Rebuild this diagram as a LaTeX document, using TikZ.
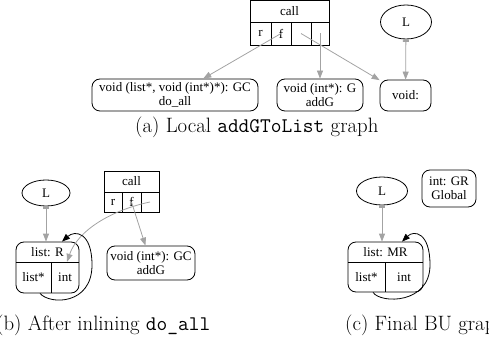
\documentclass[tikz,border=0pt]{standalone}
\usepackage{fontspec}
\newfontfamily\graphfont{Liberation Serif}
\usetikzlibrary{arrows.meta,shapes.geometric,calc}

\definecolor{edgegray}{gray}{0.64}

\tikzset{
  gtext/.style={font=\graphfont\fontsize{13}{14}\selectfont},
  rbox/.style={gtext, draw, line width=0.8pt, rounded corners=8pt, inner sep=0pt, align=center},
  cellbox/.style={gtext, draw, line width=0.8pt, inner sep=0pt},
  plain/.style={gtext, inner sep=0pt},
  oval/.style={gtext, draw, ellipse, line width=0.8pt, inner sep=0pt},
  ptr/.style={draw=edgegray, line width=0.8pt, -{Triangle[length=8pt,width=6pt]}},
  tailptr/.style={draw=edgegray, line width=0.8pt,
    {Rectangle[length=2.5pt,width=6pt]}-{Triangle[length=8pt,width=6pt]}},
  selfloop/.style={draw=black, line width=0.8pt, -{Triangle[length=8pt,width=6pt]}},
  subcap/.style={font=\fontsize{20.8}{25}\selectfont, inner sep=0pt, anchor=base west},
}

\begin{document}
\begin{tikzpicture}[x=1pt,y=-1pt]
\useasboundingbox (0,0) rectangle (489,347);

% ---------------- (a) local graph ----------------
\node[cellbox, minimum width=79pt, minimum height=22pt] (callA) at (289.5,11) {call};
\node[cellbox, minimum width=21pt, minimum height=23pt] (aR)  at (260.5,33.5) {r};
\node[cellbox, minimum width=20pt, minimum height=23pt] (aF)  at (281,33.5) {f};
\node[cellbox, minimum width=20pt, minimum height=23pt] (aC3) at (301,33.5) {};
\node[cellbox, minimum width=18pt, minimum height=23pt] (aC4) at (320,33.5) {};

\node[rbox, minimum width=166pt, minimum height=32pt] (doall) at (175,95)
  {void (list*, void (int*)*): GC\\do\_all};
\node[rbox, minimum width=86pt, minimum height=32pt] (addGa) at (320,95)
  {void (int*): G\\addG};
\node[rbox, minimum width=51pt, minimum height=31pt] (voidA) at (405.5,95.5) {void:};
\node[oval, minimum width=51pt, minimum height=34pt] (LA) at (406,22) {L};

\draw[ptr] (aF.center) -- (doall);
\draw[ptr] (aC4.center) -- (addGa);
\draw[ptr] (aC3.center) -- (voidA);
\draw[tailptr] (LA) -- (voidA);

\node[subcap] (capA) at (135,133) {(a)\ Local \texttt{addGToList} graph};

% ---------------- (b) after inlining ----------------
\node[oval, minimum width=48pt, minimum height=26pt] (LB) at (46,193) {L};

\node[cellbox, minimum width=55pt, minimum height=21pt] (callB) at (131.5,181.5) {call};
\node[cellbox, minimum width=18pt, minimum height=20pt] (bR)  at (113,202) {r};
\node[cellbox, minimum width=19pt, minimum height=20pt] (bF)  at (131.5,202) {f};
\node[cellbox, minimum width=18pt, minimum height=20pt] (bC3) at (150,202) {};

\node[rbox, minimum width=88pt, minimum height=34pt] (addGb) at (151,263)
  {void (int*): GC\\addG};

\node[rbox, minimum width=63pt, minimum height=51pt] (listR) at (47.5,267.5) {};
\node[plain] (listRlbl) at (47.5,252.5) {list: R};
\draw[line width=0.8pt] (16,262) -- (79,262);
\draw[line width=0.8pt] (51,262) -- (51,293);
\node[plain, minimum width=35pt, minimum height=31pt] (lRstar) at (33.5,277.5) {list*};
\node[plain, minimum width=28pt, minimum height=31pt] (lRint) at (65,277.5) {int};

\draw[tailptr] (LB) -- (LB.south |- listR.north);
\draw[ptr] (bF.center) -- (addGb);
\draw[ptr] (bC3.center) .. controls (112,210) and (78,230) .. ([xshift=2pt]lRint.north);
\draw[selfloop] ([xshift=-7.5pt]listR.south) .. controls (50,305) and (92,305) .. (92,265)
  .. controls (92,232) and (75,230) .. ([xshift=14.5pt]listR.north);

\node[subcap] (capB) at (-4,330) {(b)\ After inlining \texttt{do\_all}};

% ---------------- (c) final BU graph ----------------
\node[oval, minimum width=51pt, minimum height=28pt] (LC) at (382,191) {L};
\node[rbox, minimum width=54pt, minimum height=37pt] (global) at (449,188.5)
  {int: GR\\Global};

\node[rbox, minimum width=75pt, minimum height=50pt] (listMR) at (385.5,267) {};
\node[plain] (listMRlbl) at (385.5,252.5) {list: MR};
\draw[line width=0.8pt] (348,262) -- (423,262);
\draw[line width=0.8pt] (385,262) -- (385,292);
\node[plain, minimum width=37pt, minimum height=30pt] (lMRstar) at (366.5,277.5) {list*};
\node[plain, minimum width=38pt, minimum height=30pt] (lMRint) at (404,277.5) {int};

\draw[tailptr] (LC) -- (LC.south |- listMR.north);
\draw[selfloop] ([xshift=-12.5pt]listMR.south) .. controls (381,304) and (430,304) .. (430,265)
  .. controls (430,232) and (414,230) .. ([xshift=16.5pt]listMR.north);

\node[subcap] (capC) at (345,330) {(c)\ Final BU graph};
\end{tikzpicture}
\end{document}
